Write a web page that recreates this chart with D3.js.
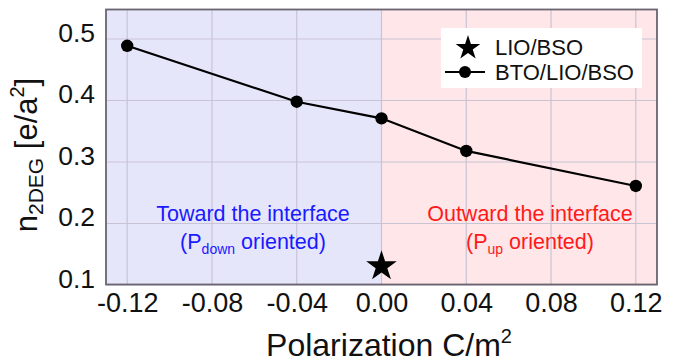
<!DOCTYPE html>
<html><head><meta charset="utf-8">
<script src="https://cdn.jsdelivr.net/npm/d3@7"></script>
<style>body{margin:0;background:#fff}svg{display:block}text{font-family:"Liberation Sans",Arial,sans-serif}</style>
</head><body><svg id="c" width="675" height="362"></svg>
<script>
const polarization = [-0.12, -0.04, 0.00, 0.04, 0.12];
const n2deg = [0.489, 0.398, 0.371, 0.318, 0.261];
const starX = [0.00];
const starY = [0.132];
const xTicks = [-0.12, -0.08, -0.04, 0.00, 0.04, 0.08, 0.12];
const yTicks = [0.1, 0.2, 0.3, 0.4, 0.5];
const legendLabels = ["LIO/BSO", "BTO/LIO/BSO"];

const svg = d3.select("#c");
const L = 106, R = 657, T = 9.5, B = 284.5;
const x = d3.scaleLinear().domain([-0.13, 0.13]).range([L, R]);
const y = d3.scaleLinear().domain([0.1, 0.55]).range([285, 8.25]);

// backgrounds
svg.append("rect").attr("x", L).attr("y", T).attr("width", x(0) - L).attr("height", B - T).attr("fill", "#e6e6fa");
svg.append("rect").attr("x", x(0)).attr("y", T).attr("width", R - x(0)).attr("height", B - T).attr("fill", "#ffe6e8");

// grid
const g = svg.append("g");
g.selectAll(".vx").data(xTicks).join("line")
  .attr("x1", d => x(d)).attr("x2", d => x(d)).attr("y1", T).attr("y2", B)
  .attr("stroke", "#c8c4d4").attr("stroke-width", 1.2);
g.selectAll(".hy").data(yTicks).join("line")
  .attr("x1", L).attr("x2", R).attr("y1", d => y(d)).attr("y2", d => y(d))
  .attr("stroke", "#c8c4d4").attr("stroke-width", 1.2);

// border
svg.append("rect").attr("x", L).attr("y", T).attr("width", R - L).attr("height", B - T)
  .attr("fill", "none").attr("stroke", "#6a6470").attr("stroke-width", 1.8);

// axes via d3 axis (labels only)
const xAxis = svg.append("g").attr("transform", `translate(0,${B})`)
  .call(d3.axisBottom(x).tickValues(xTicks).tickFormat(d3.format(".2f")).tickSize(0).tickPadding(8));
xAxis.select(".domain").remove();
xAxis.selectAll("text").attr("font-size", 27).attr("fill", "#111")
  .text(d => d3.format(".2f")(d).replace("−", "-"));

const yAxis = svg.append("g").attr("transform", `translate(${L},-6)`)
  .call(d3.axisLeft(y).tickValues(yTicks).tickFormat(d3.format(".1f")).tickSize(0).tickPadding(11));
yAxis.select(".domain").remove();
yAxis.selectAll("text").attr("font-size", 26.5).attr("fill", "#111");

// annotations
function twoLine(cx, color, l1, pre, sub, post) {
  svg.append("text").attr("x", cx).attr("y", 221).attr("text-anchor", "middle")
    .attr("font-size", 21.5).attr("fill", color).text(l1);
  const t = svg.append("text").attr("x", cx).attr("y", 249).attr("text-anchor", "middle")
    .attr("font-size", 21.5).attr("fill", color);
  t.append("tspan").text(pre);
  t.append("tspan").attr("font-size", 14).attr("dy", 5).text(sub);
  t.append("tspan").attr("dy", -5).text(post);
}
twoLine(253, "#1a1aff", "Toward the interface", "(P", "down", " oriented)");
twoLine(530, "#ff1a1a", "Outward the interface", "(P", "up", " oriented)");

// line + points
const pts = polarization.map((p, i) => [p, n2deg[i]]);
svg.append("path").datum(pts)
  .attr("d", d3.line().x(d => x(d[0])).y(d => y(d[1])))
  .attr("fill", "none").attr("stroke", "#000").attr("stroke-width", 2.2);
svg.selectAll(".pt").data(pts).join("circle")
  .attr("cx", d => x(d[0])).attr("cy", d => y(d[1])).attr("r", 6.2).attr("fill", "#000");

// star
const star = d3.symbol().type(d3.symbolStar).size(290);
svg.selectAll(".st").data(starX.map((v, i) => [v, starY[i]])).join("path")
  .attr("d", star).attr("transform", d => `translate(${x(d[0])},${y(d[1]) + 1})`).attr("fill", "#000");

// legend
const lg = svg.append("g");
lg.append("rect").attr("x", 441).attr("y", 28).attr("width", 201).attr("height", 60).attr("fill", "#fff");
lg.append("path").attr("d", d3.symbol().type(d3.symbolStar).size(190)).attr("transform", "translate(468,48)").attr("fill", "#000");
lg.append("line").attr("x1", 445).attr("x2", 485).attr("y1", 72).attr("y2", 72).attr("stroke", "#000").attr("stroke-width", 2);
lg.append("circle").attr("cx", 465).attr("cy", 72).attr("r", 6).attr("fill", "#000");
lg.selectAll(".lt").data(legendLabels).join("text")
  .attr("x", 495).attr("y", (d, i) => 55 + i * 25).attr("font-size", 22).attr("fill", "#111").text(d => d);

// axis titles
svg.append("text").attr("x", 389).attr("y", 356).attr("text-anchor", "middle").attr("font-size", 32).attr("fill", "#111")
  .call(t => { t.append("tspan").text("Polarization C/m"); t.append("tspan").attr("font-size", 20).attr("dy", -13).text("2"); });

const yt = svg.append("text").attr("transform", "translate(37,155) rotate(-90)").attr("text-anchor", "middle")
  .attr("font-size", 31).attr("fill", "#111");
yt.append("tspan").text("n");
yt.append("tspan").attr("font-size", 21).attr("dy", 6).text("2DEG");
yt.append("tspan").attr("dy", -6).text(" [e/a");
yt.append("tspan").attr("font-size", 20).attr("dy", -13).text("2");
yt.append("tspan").attr("dy", 13).text("]");
</script></body></html>
